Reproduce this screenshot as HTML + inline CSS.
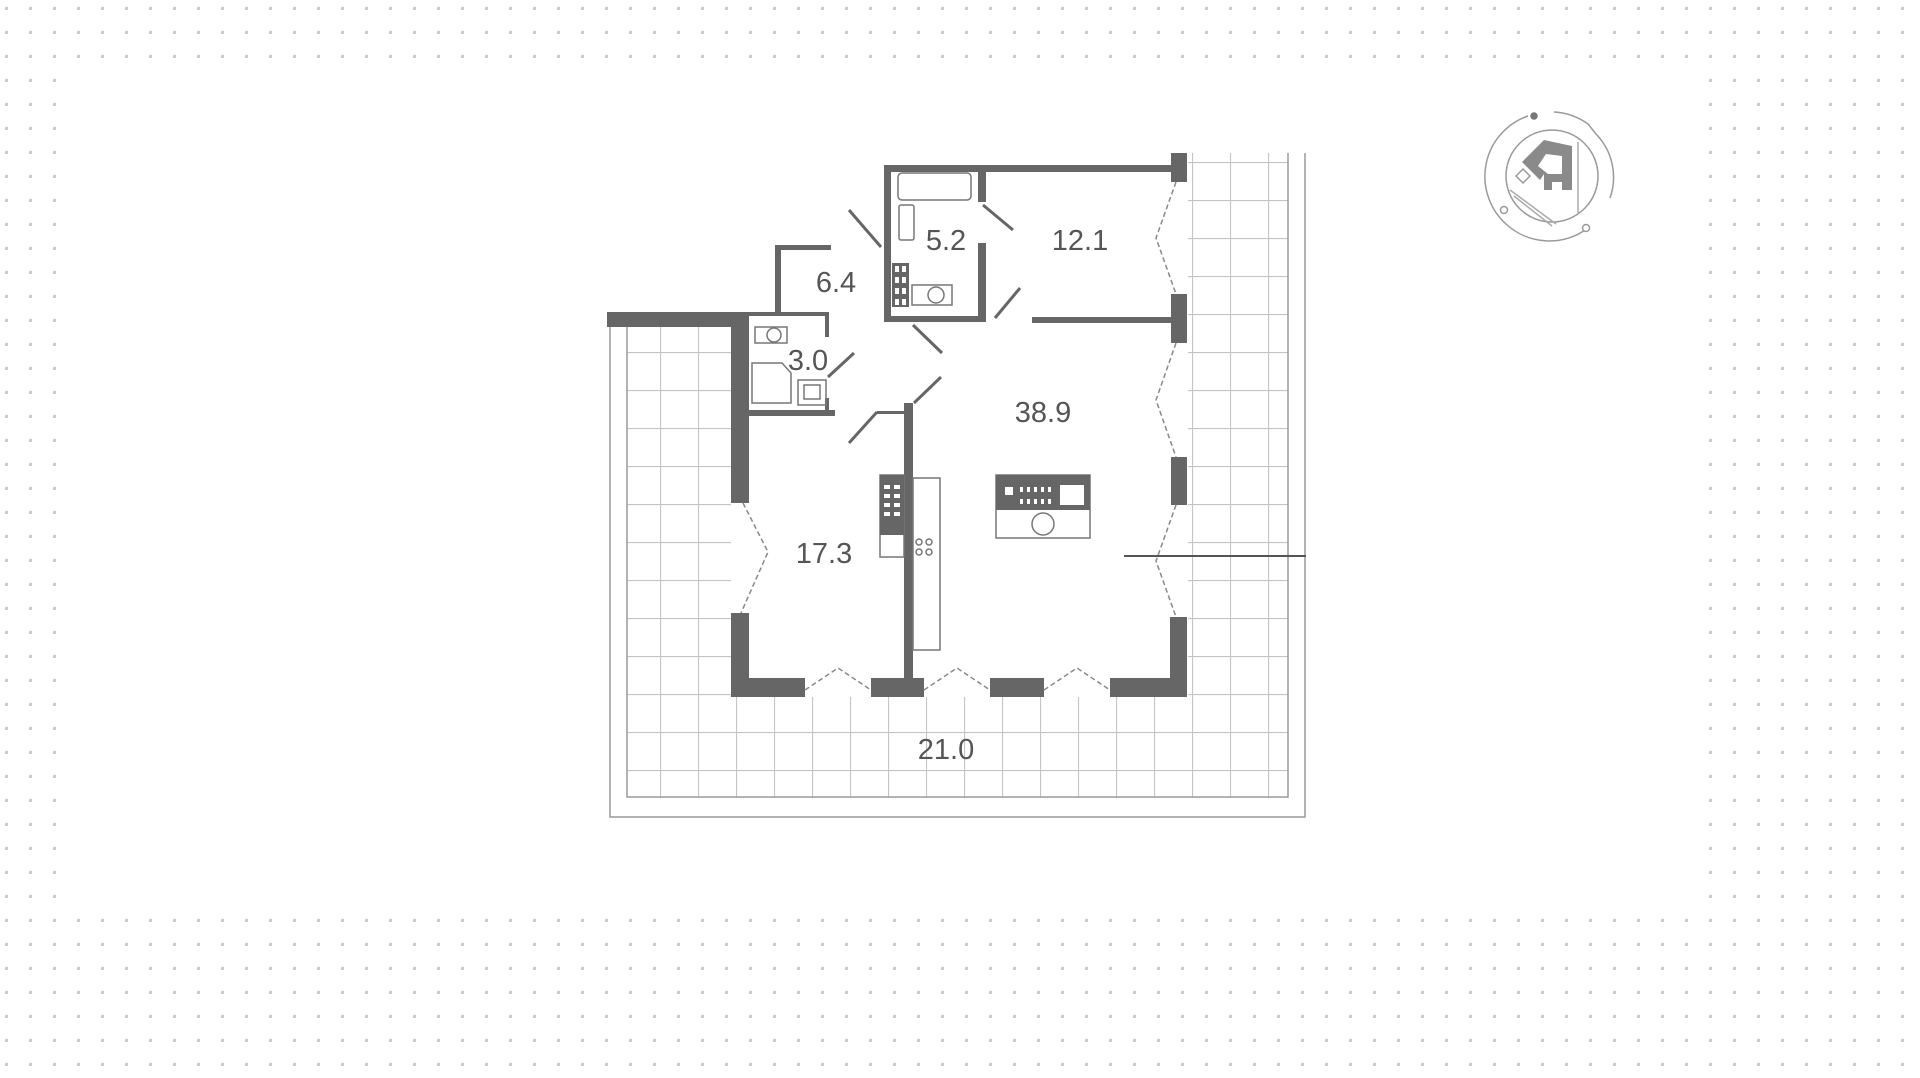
<!DOCTYPE html>
<html><head><meta charset="utf-8"><style>
html,body{margin:0;padding:0;background:#fff;}
svg{display:block;}
text{font-family:"Liberation Sans",sans-serif;}
</style></head><body>
<svg width="1920" height="1078" viewBox="0 0 1920 1078" xmlns="http://www.w3.org/2000/svg">
<defs>
<pattern id="dots" x="5" y="7" width="24" height="24" patternUnits="userSpaceOnUse">
<rect x="0" y="0" width="3" height="3" fill="#cacaca"/>
</pattern>
<pattern id="tiles" x="14" y="10" width="38" height="38" patternUnits="userSpaceOnUse">
<path d="M0 0.5H38M0.5 0V38" stroke="#c4c4c4" stroke-width="1.2" fill="none"/>
</pattern>
<clipPath id="terr">
<path d="M627 327H731V697H1188V153H1288V797H627Z"/>
</clipPath>
</defs>
<rect width="1920" height="1078" fill="url(#dots)"/>
<rect x="64" y="70" width="1626" height="836" fill="#fff"/>

<!-- terrace tiles -->
<rect x="600" y="140" width="720" height="680" fill="url(#tiles)" clip-path="url(#terr)"/>
<g stroke="#9a9a9a" stroke-width="1.5" fill="none">
<path d="M610 318V817H1305V153"/>
<path d="M627 327V797H1288V153"/>
<path d="M1124 556H1306" stroke="#555" stroke-width="2"/>
</g>

<g fill="#666">
<rect x="607" y="312" width="142" height="15"/>
<rect x="731" y="312" width="18" height="191"/>
<rect x="731" y="613" width="18" height="84"/>
<rect x="731" y="678" width="74" height="19"/>
<rect x="871" y="678" width="53" height="19"/>
<rect x="990" y="678" width="54" height="19"/>
<rect x="1110" y="678" width="77" height="19"/>
<rect x="1171" y="153" width="16" height="29"/>
<rect x="1171" y="294" width="16" height="49"/>
<rect x="1171" y="457" width="16" height="48"/>
<rect x="1170" y="617" width="17" height="80"/>
<rect x="884" y="165" width="302" height="7"/>
<rect x="884" y="165" width="7" height="157"/>
<rect x="884" y="316" width="99" height="6"/>
<rect x="978" y="170" width="8" height="32"/>
<rect x="978" y="243" width="8" height="79"/>
<rect x="1032" y="317" width="145" height="6"/>
<rect x="775" y="245" width="56" height="5"/>
<rect x="775" y="245" width="6" height="70"/>
<rect x="749" y="312" width="79" height="4"/>
<rect x="825" y="312" width="4" height="25"/>
<rect x="748" y="410" width="87" height="6"/>
<rect x="825" y="398" width="4" height="14"/>
<rect x="904" y="403" width="9" height="294"/>
<rect x="877" y="411" width="30" height="3"/>
</g>

<g stroke="#666" stroke-width="3" fill="none">
<path d="M849 210L881 247"/>
<path d="M983 205L1013 230"/>
<path d="M1020 288L995 318"/>
<path d="M913 325L942 353"/>
<path d="M941 377L914 403"/>
<path d="M877 412L849 443"/>
<path d="M854 353L828 377"/>
</g>

<g stroke="#888" stroke-width="1.5" fill="none" stroke-dasharray="5 3">
<path d="M743 503L768 552L741 613"/>
<path d="M1176 182L1156 238L1176 294"/>
<path d="M1176 343L1156 400L1176 457"/>
<path d="M1176 505L1156 561L1176 617"/>
<path d="M805 690L838 668L871 690"/>
<path d="M924 690L957 668L990 690"/>
<path d="M1044 690L1077 668L1110 690"/>
</g>

<g stroke="#777" stroke-width="1.5" fill="none">
<rect x="898" y="173" width="73" height="27" rx="4"/>
<rect x="899" y="205" width="15" height="35" rx="2"/>
<rect x="912" y="285" width="40" height="20"/>
<circle cx="936" cy="295" r="8"/>
<rect x="755" y="327" width="32" height="16"/>
<circle cx="774" cy="335" r="7"/>
<path d="M752 363H782L791 373V403H752Z"/>
<rect x="798" y="380" width="28" height="25"/>
<rect x="804" y="385" width="16" height="14"/>
<rect x="880" y="475" width="24" height="82"/>
<rect x="913" y="478" width="27" height="172"/>
<rect x="996" y="475" width="94" height="63"/>
<circle cx="1043" cy="524" r="11"/>
</g>
<g fill="#666">
<rect x="892" y="263" width="17" height="44"/>
<rect x="996" y="475" width="94" height="35"/>
<rect x="880" y="475" width="24" height="60"/>
</g>
<g fill="#fff">
<rect x="895" y="266" width="4" height="6"/><rect x="902" y="266" width="4" height="6"/>
<rect x="895" y="277" width="4" height="6"/><rect x="902" y="277" width="4" height="6"/>
<rect x="895" y="288" width="4" height="6"/><rect x="902" y="288" width="4" height="6"/>
<rect x="895" y="299" width="4" height="6"/><rect x="902" y="299" width="4" height="6"/>
<rect x="884" y="485" width="6" height="4"/><rect x="894" y="485" width="6" height="4"/>
<rect x="884" y="494" width="6" height="4"/><rect x="894" y="494" width="6" height="4"/>
<rect x="884" y="503" width="6" height="4"/><rect x="894" y="503" width="6" height="4"/>
<rect x="884" y="512" width="6" height="4"/><rect x="894" y="512" width="6" height="4"/>
<rect x="1005" y="487" width="8" height="8"/>
<rect x="1020" y="487" width="3" height="5"/><rect x="1027" y="487" width="3" height="5"/><rect x="1034" y="487" width="3" height="5"/><rect x="1041" y="487" width="3" height="5"/><rect x="1048" y="487" width="3" height="5"/>
<rect x="1020" y="499" width="3" height="5"/><rect x="1027" y="499" width="3" height="5"/><rect x="1034" y="499" width="3" height="5"/><rect x="1041" y="499" width="3" height="5"/><rect x="1048" y="499" width="3" height="5"/>
<rect x="1060" y="485" width="24" height="20"/>
</g>
<g stroke="#777" stroke-width="1.5" fill="none">
<circle cx="919" cy="542" r="3"/><circle cx="929" cy="542" r="3"/>
<circle cx="919" cy="552" r="3"/><circle cx="929" cy="552" r="3"/>
</g>

<g fill="#555" font-size="29" text-anchor="middle">
<text x="946" y="250">5.2</text>
<text x="1080" y="250">12.1</text>
<text x="836" y="292">6.4</text>
<text x="808" y="370">3.0</text>
<text x="1043" y="422">38.9</text>
<text x="824" y="563">17.3</text>
<text x="946" y="759">21.0</text>
</g>

<!-- compass -->
<g transform="translate(1552,176)" stroke="#999" stroke-width="1.5" fill="none">
<circle r="46"/>
<path d="M-24 -60A64 64 0 0 0 -46 48A64 64 0 0 0 36 52"/>
<path d="M2 -64A64 64 0 0 1 36 -52L44 -42A62 62 0 0 1 58 22"/>
<path d="M26 -34V38" stroke="#aaa"/>
<path d="M-42 14L4 48" stroke="#aaa"/>
<path d="M-38 20L0 50" stroke="#aaa"/>
<circle cx="-18" cy="-60" r="3" fill="#777" stroke="#777"/>
<circle cx="-48" cy="34" r="3.5" fill="#fff"/>
<circle cx="34" cy="52" r="3.5" fill="#fff"/>
<path d="M-30 -14L-8 -36L20 -30V14H10V6H0V14H-8V-2L-12 4Z" fill="#8a8a8a" stroke="none"/>
<path d="M-14 -10L-6 -22L10 -20V-2H-4Z" fill="#fff" stroke="none"/>
<path d="M-36 0L-29 -7L-22 0L-29 7Z" fill="#fff" stroke="#999"/>
</g>
</svg>
</body></html>
